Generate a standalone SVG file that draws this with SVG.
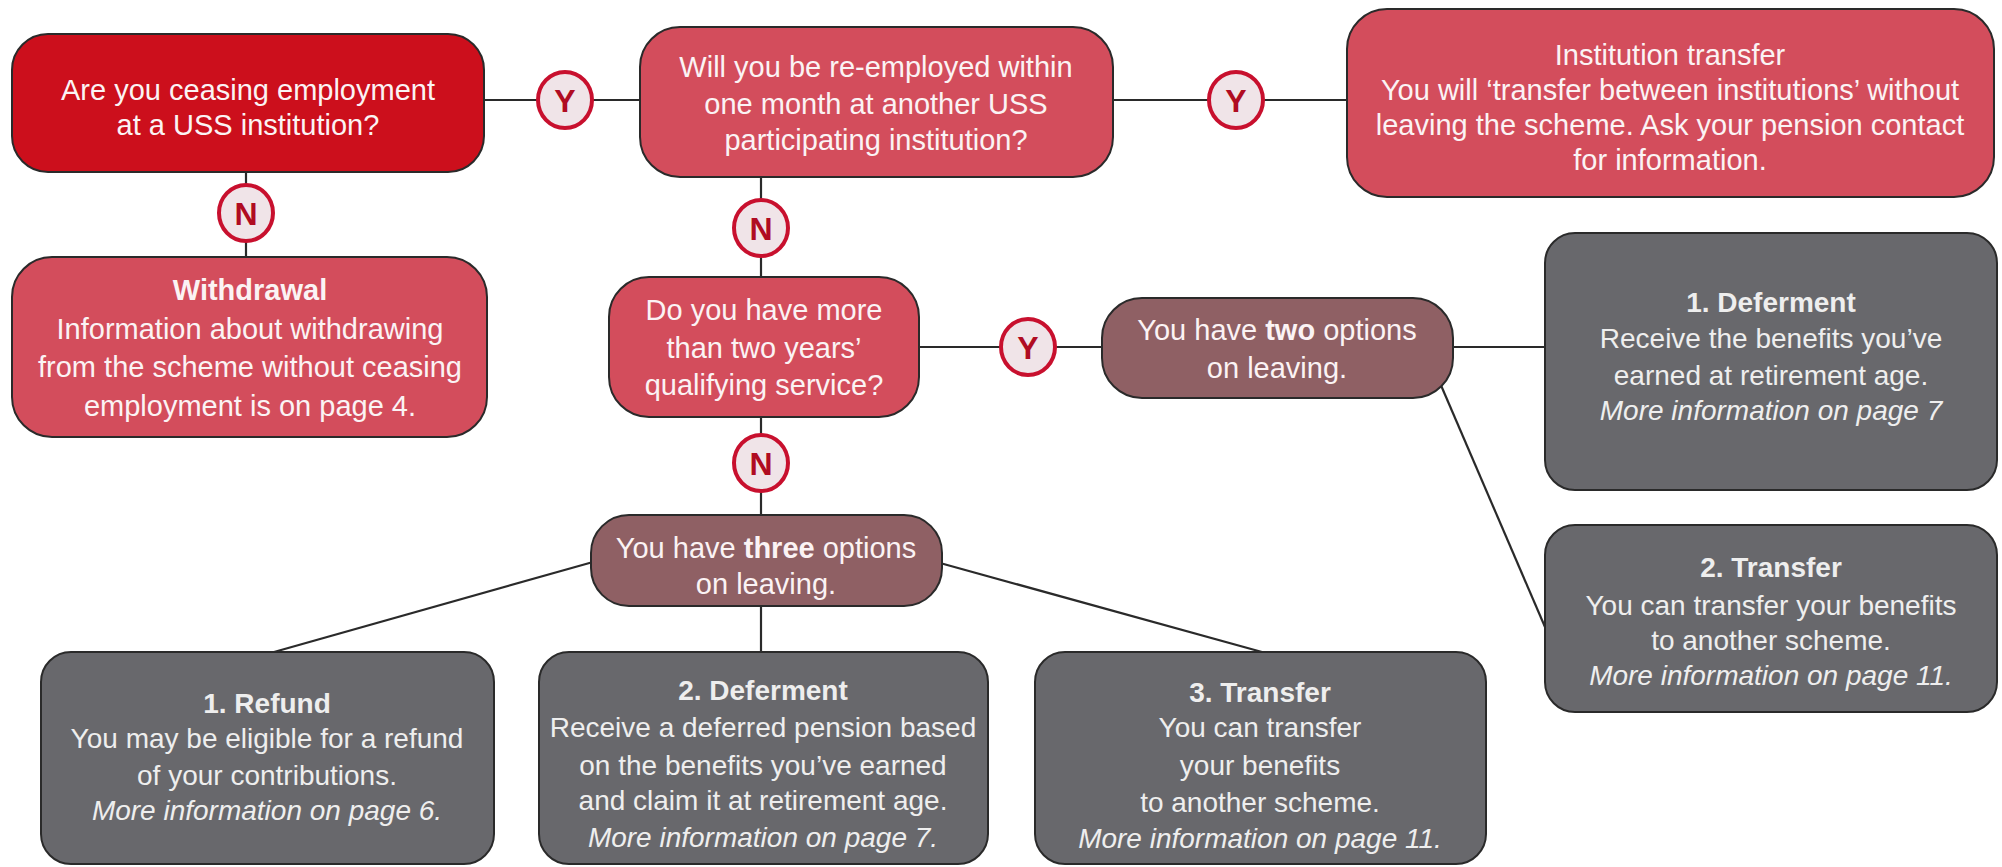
<svg xmlns="http://www.w3.org/2000/svg" width="2002" height="867" viewBox="0 0 2002 867">
<defs>
<style>
text{font-family:"Liberation Sans",Arial,sans-serif;text-anchor:middle;fill:#fbf3f4;font-size:29px}
.g text{fill:#eeeeee;font-size:28px}
.dr{fill:#cc0f1c;stroke:#2a2a2a;stroke-width:2}
.mr{fill:#d34d5c;stroke:#2a2a2a;stroke-width:2}
.mv{fill:#8f6064;stroke:#2a2a2a;stroke-width:2}
.gr{fill:#68686c;stroke:#2a2a2a;stroke-width:2}
.b{font-weight:bold}
.i{font-style:italic}
.c ellipse{fill:#f0e4e8;stroke:#c8102e;stroke-width:4}
.c text{fill:#b00c22;font-weight:bold;font-size:32px}
.lk line{stroke:#2a2a2a;stroke-width:2.2}
</style>
</defs>
<rect width="2002" height="867" fill="#ffffff"/>
<g id="connectors" class="lk">
<line x1="484" y1="100" x2="640" y2="100"/>
<line x1="1113" y1="100" x2="1347" y2="100"/>
<line x1="246" y1="172" x2="246" y2="257"/>
<line x1="761" y1="177" x2="761" y2="277"/>
<line x1="919" y1="347" x2="1102" y2="347"/>
<line x1="1453" y1="347" x2="1545" y2="347"/>
<line x1="1440" y1="383" x2="1545" y2="627"/>
<line x1="761" y1="417" x2="761" y2="515"/>
<line x1="593" y1="562" x2="274" y2="652"/>
<line x1="761" y1="606" x2="761" y2="652"/>
<line x1="940" y1="563" x2="1262" y2="652"/>
</g>
<g id="n1"><rect class="dr" x="12" y="34" width="472" height="138" rx="36"/>
<text x="248" y="100">Are you ceasing employment</text>
<text x="248" y="135">at a USS institution?</text></g>
<g id="n2"><rect class="mr" x="640" y="27" width="473" height="150" rx="40"/>
<text x="876" y="77">Will you be re-employed within</text>
<text x="876" y="114">one month at another USS</text>
<text x="876" y="150">participating institution?</text></g>
<g id="n3"><rect class="mr" x="1347" y="9" width="647" height="188" rx="40"/>
<text x="1670" y="65">Institution transfer</text>
<text x="1670" y="100">You will ‘transfer between institutions’ without</text>
<text x="1670" y="135">leaving the scheme. Ask your pension contact</text>
<text x="1670" y="170">for information.</text></g>
<g id="n4"><rect class="mr" x="12" y="257" width="475" height="180" rx="40"/>
<text x="250" y="300" class="b">Withdrawal</text>
<text x="250" y="339">Information about withdrawing</text>
<text x="250" y="377">from the scheme without ceasing</text>
<text x="250" y="416">employment is on page 4.</text></g>
<g id="n5"><rect class="mr" x="609" y="277" width="310" height="140" rx="40"/>
<text x="764" y="320">Do you have more</text>
<text x="764" y="358">than two years’</text>
<text x="764" y="395">qualifying service?</text></g>
<g id="n6"><rect class="mv" x="1102" y="298" width="351" height="100" rx="40"/>
<text x="1277" y="340">You have <tspan class="b">two</tspan> options</text>
<text x="1277" y="378">on leaving.</text></g>
<g id="n7"><rect class="mv" x="591" y="515" width="351" height="91" rx="38"/>
<text x="766" y="558">You have <tspan class="b">three</tspan> options</text>
<text x="766" y="594">on leaving.</text></g>
<g id="n8" class="g"><rect class="gr" x="1545" y="233" width="452" height="257" rx="30"/>
<text x="1771" y="312" class="b">1. Deferment</text>
<text x="1771" y="348">Receive the benefits you’ve</text>
<text x="1771" y="385">earned at retirement age.</text>
<text x="1771" y="420" class="i">More information on page 7</text></g>
<g id="n9" class="g"><rect class="gr" x="1545" y="525" width="452" height="187" rx="30"/>
<text x="1771" y="577" class="b">2. Transfer</text>
<text x="1771" y="615">You can transfer your benefits</text>
<text x="1771" y="650">to another scheme.</text>
<text x="1771" y="685" class="i">More information on  page 11.</text></g>
<g id="n10" class="g"><rect class="gr" x="41" y="652" width="453" height="212" rx="30"/>
<text x="267" y="713" class="b">1. Refund</text>
<text x="267" y="748">You may be eligible for a refund</text>
<text x="267" y="785">of your contributions.</text>
<text x="267" y="820" class="i">More information on page 6.</text></g>
<g id="n11" class="g"><rect class="gr" x="539" y="652" width="449" height="212" rx="30"/>
<text x="763" y="700" class="b">2. Deferment</text>
<text x="763" y="737">Receive a deferred pension based</text>
<text x="763" y="775">on the benefits you’ve earned</text>
<text x="763" y="810">and claim it at retirement age.</text>
<text x="763" y="847" class="i">More information on page 7.</text></g>
<g id="n12" class="g"><rect class="gr" x="1035" y="652" width="451" height="212" rx="30"/>
<text x="1260" y="702" class="b">3. Transfer</text>
<text x="1260" y="737">You can transfer</text>
<text x="1260" y="775">your benefits</text>
<text x="1260" y="812">to another scheme.</text>
<text x="1260" y="848" class="i">More information on page 11.</text></g>
<g id="y1" class="c"><ellipse cx="565" cy="100" rx="27" ry="28"/><text x="565" y="112">Y</text></g>
<g id="y2" class="c"><ellipse cx="1236" cy="100" rx="27" ry="28"/><text x="1236" y="112">Y</text></g>
<g id="y3" class="c"><ellipse cx="1028" cy="347" rx="27" ry="28"/><text x="1028" y="359">Y</text></g>
<g id="nn1" class="c"><ellipse cx="246" cy="213" rx="27" ry="28"/><text x="246" y="225">N</text></g>
<g id="nn2" class="c"><ellipse cx="761" cy="228" rx="27" ry="28"/><text x="761" y="240">N</text></g>
<g id="nn3" class="c"><ellipse cx="761" cy="463" rx="27" ry="28"/><text x="761" y="475">N</text></g>
</svg>
